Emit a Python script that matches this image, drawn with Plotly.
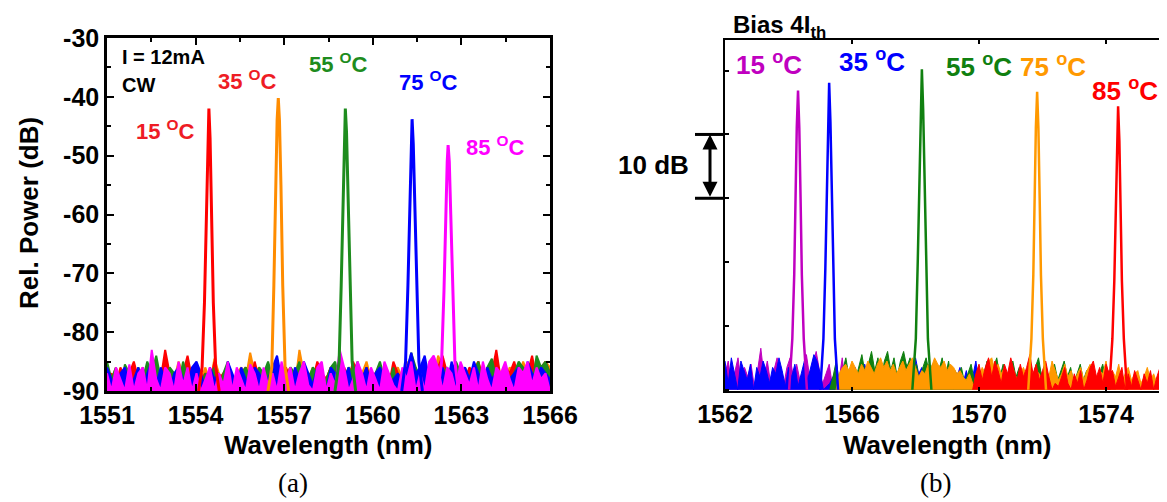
import numpy as np
import plotly.graph_objects as go

# The page body has an 8 px margin, so the figure is sized to the visible area
# and reference pixel positions are converted with that offset.
OFF = 8
W, H = 1167 - OFF, 502 - OFF

def px(x):
    return (x - OFF) / W

def py(y):
    return 1 - (y - OFF) / H

# ---------------- Panel (a): I = 12 mA, CW ----------------
A_LABELS = ["15 <sup>O</sup>C", "35 <sup>O</sup>C", "55 <sup>O</sup>C", "75 <sup>O</sup>C", "85 <sup>O</sup>C"]
A_COLORS = ["#FF0000", "#FF8C00", "#1E8C1E", "#0000FF", "#FF00FF"]
A_LABEL_COLORS = ["#EE1C25", "#EE1C25", "#1E8C1E", "#0000FF", "#FF00FF"]
A_WL_START, A_WL_END = 1551.0, 1566.0
A_XTICKS = [1551, 1554, 1557, 1560, 1563, 1566]
A_YTICKS = [-90, -80, -70, -60, -50, -40, -30]
A_YTICK_TEXT = ["-90", "-80", "-70", "-60", "-50", "-40", "-30"]

A_NOISE_15 = [-88, -87, -89, -86, -88, -87, -85, -88, -86, -89,
              -87, -86, -88, -83, -87, -89, -86, -87, -84, -88,
              -86, -88, -87, -89, -85, -88, -87, -86, -89, -88,
              -87, -86, -89, -85, -88, -87, -86, -88, -89, -87,
              -86, -88, -87, -89, -86, -87, -88, -85, -87, -88,
              -86, -89, -87, -86, -88, -85, -87, -89, -86, -88,
              -87, -86, -88, -89, -85, -87, -88, -86, -87, -88,
              -86, -87, -89, -88, -86, -84, -87, -88, -86, -87,
              -88, -86, -87, -85, -88, -86, -87, -83, -88, -86,
              -87, -85, -88, -86, -87, -84, -88, -86, -85, -87]
A_NOISE_35 = [-87, -88, -86, -89, -87, -88, -86, -89, -88, -87,
              -86, -88, -87, -89, -86, -88, -85, -87, -88, -86,
              -87, -88, -86, -89, -84.5, -87, -88, -86, -89, -87,
              -86, -88, -83.5, -87, -86, -88, -89, -87, -86, -88,
              -87, -86, -89, -83, -87, -88, -86, -89, -87, -88,
              -86, -88, -85, -87, -89, -86, -88, -87, -85, -88,
              -87, -86, -88, -89, -87, -86, -88, -85, -87, -88,
              -86, -87, -89, -88, -84, -86, -88, -87, -86, -89,
              -87, -88, -86, -85, -88, -87, -89, -86, -87, -88,
              -86, -87, -88, -85, -87, -88, -86, -87, -85, -86]
A_NOISE_55 = [-85, -88, -86, -90, -85.5, -87, -89, -86, -88, -85,
              -87, -84, -88, -90, -86, -87, -89, -85, -88, -87,
              -86, -89, -87, -88, -86, -90, -87, -85, -88, -89,
              -87, -86, -88, -89, -86, -87, -85, -88, -90, -86,
              -88, -86, -87, -85, -89, -88, -86, -87, -90, -88,
              -86, -85, -89, -88, -86, -87, -85, -88, -86, -89,
              -87, -85, -88, -89, -86, -90, -88, -87, -83.5, -86,
              -88, -86, -87, -85, -89, -87, -86, -88, -85, -87,
              -86, -88, -87, -85, -89, -86, -84.5, -88, -87, -86,
              -88, -87, -85, -86, -88, -89, -84, -86, -85, -87]
A_NOISE_75 = [-86, -88, -90, -87, -86, -89, -88, -86, -90, -87,
              -85, -89, -86, -88, -90, -87, -86, -88, -89, -86,
              -85, -87, -90, -86, -88, -87, -90, -85, -87, -89,
              -86, -88, -90, -86, -87, -89, -88, -86, -84, -88,
              -87, -90, -86, -88, -85, -87, -89, -86, -88, -90,
              -86, -87, -89, -88, -86, -90, -87, -88, -86, -89,
              -87, -86, -88, -90, -88, -87, -89, -86, -83.5, -87,
              -86, -84, -88, -90, -87, -86, -89, -85, -87, -88,
              -86, -88, -85, -87, -89, -86, -88, -87, -90, -86,
              -88, -87, -86, -89, -85, -87, -88, -86, -87, -88]
A_NOISE_85 = [-87, -90, -86, -88, -90, -85.5, -90, -87, -86, -90,
              -83, -88, -90, -86, -87, -90, -85, -89, -86, -90,
              -87, -90, -88, -86, -90, -87, -89, -85, -90, -86,
              -88, -90, -85.5, -87, -90, -86, -89, -87, -90, -85,
              -88, -86, -90, -87, -85, -89, -90, -86, -85, -90,
              -87, -89, -83, -86, -90, -88, -85, -87, -90, -86,
              -88, -90, -85, -87, -89, -90, -86, -88, -85, -90,
              -87, -90, -85, -84, -86, -90, -86, -87, -90, -85,
              -87, -89, -86, -90, -85, -88, -90, -86, -87, -85,
              -88, -90, -86, -87, -85, -89, -86, -88, -87, -90]

A_PEAK_WL_15 = [1554.10, 1554.22, 1554.30, 1554.36, 1554.41, 1554.45, 1554.49, 1554.54, 1554.60, 1554.68, 1554.80]
A_PEAK_DB_15 = [-90, -86, -75, -60, -47, -42, -47, -60, -75, -86, -90]
A_PEAK_WL_35 = [1556.45, 1556.58, 1556.65, 1556.71, 1556.76, 1556.80, 1556.84, 1556.89, 1556.95, 1557.03, 1557.15]
A_PEAK_DB_35 = [-90, -86, -72, -55, -44, -40.2, -44, -55, -72, -86, -90]
A_PEAK_WL_55 = [1558.72, 1558.86, 1558.93, 1558.99, 1559.03, 1559.07, 1559.11, 1559.16, 1559.22, 1559.30, 1559.42]
A_PEAK_DB_55 = [-90, -85, -72, -57, -46, -42, -46, -57, -72, -85, -90]
A_PEAK_WL_75 = [1560.98, 1561.11, 1561.19, 1561.25, 1561.30, 1561.33, 1561.37, 1561.42, 1561.48, 1561.56, 1561.68]
A_PEAK_DB_75 = [-90, -85, -72, -58, -48, -43.8, -48, -58, -72, -85, -90]
A_PEAK_WL_85 = [1562.20, 1562.33, 1562.41, 1562.47, 1562.52, 1562.55, 1562.59, 1562.64, 1562.70, 1562.78, 1562.90]
A_PEAK_DB_85 = [-90, -85, -73, -60, -51, -48.2, -51, -60, -73, -85, -90]

A_FLOOR = -90

# ---------------- Panel (b): Bias 4 I_th (dB above floor) ----------------
B_LABELS = ["15 <sup>o</sup>C", "35 <sup>o</sup>C", "55 <sup>o</sup>C", "75 <sup>o</sup>C", "85 <sup>o</sup>C"]
B_COLORS = ["#C000C0", "#0000FF", "#108010", "#FF9900", "#FF0000"]
B_XTICKS = [1562, 1566, 1570, 1574]

B_NOISE_WIN_15 = (1562.0, 1566.0)
B_NOISE_15 = [2.5, 4.5, 0.5, 3, 5, 1, 3.5, 2, 4, 0.5,
              3, 6.5, 2, 4.5, 1, 3, 5, 2.5, 0.5, 3.5,
              5, 2, 4, 1.5, 3, 5.5, 2, 4, 6, 3,
              1, 2.5, 4, 0.5, 3, 1.5, 5, 0.5, 2, 0]
B_NOISE_WIN_35 = (1562.0, 1570.3)
B_NOISE_35 = [4.5, 1, 5, 2.5, 0, 4.5, 3, 1.5, 4, 0,
              3.5, 2, 4.5, 3, 1, 3.5, 2.5, 5, 3, 0.5,
              3.5, 2, 4, 0.5, 2.5, 4.5, 1.5, 3.5, 5.5, 4.5,
              2.5, 0, 0.5, 1, 2, 3, 0, 1.5, 3, 0.5,
              2, 3.5, 1, 2.5, 4, 2, 3, 1.5, 4.5, 2,
              3.5, 1, 3, 4, 2, 0, 2.5, 4, 1.5, 3,
              5, 2.5, 3.5, 1, 4, 2, 3, 0.5, 2.5, 4,
              1.5, 3, 0, 2, 3.5, 1, 3, 0.5, 2, 4.5,
              1, 3, 0.5, 0]
B_NOISE_WIN_55 = (1565.3, 1574.3)
B_NOISE_55 = [0, 2, 4.5, 1, 3, 5, 2, 4, 1.5, 3.5,
              5.5, 2.5, 4, 6, 3, 5, 1.5, 4.5, 6, 3,
              5, 2, 4.5, 6, 3.5, 5, 2, 4, 1, 3.5,
              5, 2.5, 4, 1.5, 3, 5, 2, 4.5, 1, 3,
              2, 3.5, 1, 2.5, 4, 1.5, 3, 0.5, 2.5, 4.5,
              1.5, 3.5, 5, 2, 4, 1, 3, 4.5, 2, 3.5,
              1, 2.5, 4, 1.5, 3.5, 5, 2, 3, 1, 2.5,
              4, 1.5, 3, 4.5, 2, 3.5, 1, 2.5, 4, 1.5,
              3, 2, 3.5, 1, 2.5, 4, 1.5, 3, 0.5, 0]
B_NOISE_WIN_75 = (1565.5, 1575.9)
B_NOISE_75 = [0, 2.5, 3.5, 4, 3, 4.5, 3.5, 2.5, 4, 3,
              4.5, 3.5, 2.5, 4, 5, 3.5, 4.5, 3, 4, 2.5,
              3.5, 4.5, 3, 4, 5, 3.5, 2, 3, 2.5, 4,
              3.5, 5, 4, 3.5, 4.5, 3, 4, 3.5, 2.5, 3,
              2, 1.5, 2.5, 1, 0.5, 2, 3.5, 2.5, 4.5, 5,
              3, 4, 2.5, 3.5, 2, 4, 3, 1.5, 2.5, 3.5,
              2, 4, 1.5, 3, 2.5, 1, 3.5, 2, 4.5, 3,
              1.5, 2.5, 4, 2, 3, 1, 2.5, 3.5, 1.5, 3,
              4, 2, 1, 3, 2.5, 4.5, 1.5, 3, 2, 4,
              1, 2.5, 3.5, 1.5, 2.5, 3, 1, 2, 3.5, 1.5,
              2.5, 1, 3, 1.5, 0]
B_NOISE_WIN_85 = (1569.8, 1575.9)
B_NOISE_85 = [0, 2.5, 4, 1.5, 3.5, 5, 2, 4.5, 3, 1,
              4, 2.5, 5, 3, 1.5, 4, 2, 3.5, 5.5, 2.5,
              4, 1.5, 3, 4.5, 2, 0, 1, 0.5, 2, 3.5,
              1, 0, 2.5, 1, 3, 0, 1.5, 3.5, 4.5, 2,
              3.5, 1, 4, 2.5, 3, 0.5, 2, 3.5, 0, 2.5,
              0.5, 3, 1.5, 0, 2.5, 1, 3, 0, 2, 3.5,
              1.5, 3]

B_PEAK_WL_15 = [1564.02, 1564.12, 1564.18, 1564.22, 1564.26, 1564.30, 1564.34, 1564.38, 1564.42, 1564.48, 1564.58]
B_PEAK_DB_15 = [0, 8, 18, 30, 41, 46.9, 41, 30, 18, 8, 0]
B_PEAK_WL_35 = [1565.00, 1565.10, 1565.16, 1565.20, 1565.24, 1565.28, 1565.32, 1565.36, 1565.40, 1565.46, 1565.56]
B_PEAK_DB_35 = [0, 8, 19, 31, 42, 48.1, 42, 31, 19, 8, 0]
B_PEAK_WL_55 = [1567.90, 1568.01, 1568.07, 1568.12, 1568.16, 1568.20, 1568.24, 1568.28, 1568.33, 1568.39, 1568.50]
B_PEAK_DB_55 = [0, 8, 20, 33, 44, 50.2, 44, 33, 20, 8, 0]
B_PEAK_WL_75 = [1571.55, 1571.65, 1571.71, 1571.75, 1571.79, 1571.83, 1571.87, 1571.91, 1571.95, 1572.01, 1572.11]
B_PEAK_DB_75 = [0, 8, 18, 30, 41, 46.7, 41, 30, 18, 8, 0]
B_PEAK_WL_85 = [1574.10, 1574.20, 1574.26, 1574.30, 1574.34, 1574.38, 1574.42, 1574.46, 1574.50, 1574.56, 1574.66]
B_PEAK_DB_85 = [0, 8, 17, 28, 39, 44.4, 39, 28, 17, 8, 0]

SCALE_BAR_DB = (30, 40)

# ---------------- figure ----------------
fig = go.Figure()

a_noise = [A_NOISE_15, A_NOISE_35, A_NOISE_55, A_NOISE_75, A_NOISE_85]
a_peak_wl = [A_PEAK_WL_15, A_PEAK_WL_35, A_PEAK_WL_55, A_PEAK_WL_75, A_PEAK_WL_85]
a_peak_db = [A_PEAK_DB_15, A_PEAK_DB_35, A_PEAK_DB_55, A_PEAK_DB_75, A_PEAK_DB_85]

# noise draw order: orange, red, green, blue, magenta (magenta on top)
for i in [1, 0, 2, 3, 4]:
    vals = a_noise[i]
    x = np.linspace(A_WL_START, A_WL_END, len(vals))
    fig.add_trace(go.Scatter(x=x, y=[A_FLOOR] * len(vals), mode="lines",
                             line=dict(width=0, color=A_COLORS[i]), hoverinfo="skip",
                             showlegend=False, xaxis="x", yaxis="y"))
    fig.add_trace(go.Scatter(x=x, y=vals, mode="lines", fill="tonexty",
                             fillcolor=A_COLORS[i], line=dict(width=2, color=A_COLORS[i]),
                             showlegend=False, xaxis="x", yaxis="y"))
for i in range(5):
    fig.add_trace(go.Scatter(x=a_peak_wl[i], y=a_peak_db[i], mode="lines",
                             line=dict(width=3, color=A_COLORS[i]),
                             showlegend=False, xaxis="x", yaxis="y"))

b_noise = [B_NOISE_15, B_NOISE_35, B_NOISE_55, B_NOISE_75, B_NOISE_85]
b_win = [B_NOISE_WIN_15, B_NOISE_WIN_35, B_NOISE_WIN_55, B_NOISE_WIN_75, B_NOISE_WIN_85]
b_peak_wl = [B_PEAK_WL_15, B_PEAK_WL_35, B_PEAK_WL_55, B_PEAK_WL_75, B_PEAK_WL_85]
b_peak_db = [B_PEAK_DB_15, B_PEAK_DB_35, B_PEAK_DB_55, B_PEAK_DB_75, B_PEAK_DB_85]

for i in range(5):
    vals = b_noise[i]
    x = np.linspace(b_win[i][0], b_win[i][1], len(vals))
    fig.add_trace(go.Scatter(x=x, y=vals, mode="lines", fill="tozeroy",
                             fillcolor=B_COLORS[i], line=dict(width=1, color=B_COLORS[i]),
                             showlegend=False, xaxis="x2", yaxis="y2"))
for i in range(5):
    fig.add_trace(go.Scatter(x=b_peak_wl[i], y=b_peak_db[i], mode="lines",
                             line=dict(width=2.5, color=B_COLORS[i]),
                             showlegend=False, xaxis="x2", yaxis="y2"))

FONT = "Liberation Sans, Arial, sans-serif"
tickfont = dict(family=FONT, size=25, color="black", weight="bold")

axis_common = dict(showgrid=False, zeroline=False, showline=True, linecolor="black",
                   ticks="inside", tickcolor="black", tickfont=tickfont, automargin=False)

fig.update_layout(
    template="none",
    width=W, height=H,
    margin=dict(l=0, r=0, t=0, b=0, pad=0, autoexpand=False),
    paper_bgcolor="white", plot_bgcolor="white",
    showlegend=False,
    xaxis=dict(axis_common, domain=[px(107), px(550)], range=[A_WL_START, A_WL_END],
               tickvals=A_XTICKS, ticklen=7, tickwidth=2, linewidth=2.5, mirror="allticks",
               minor=dict(ticks="inside", dtick=1.5, ticklen=4, tickwidth=2, tickcolor="black"),
               anchor="y"),
    yaxis=dict(axis_common, domain=[py(391), py(38)], range=[-90, -30],
               tickvals=A_YTICKS, ticktext=A_YTICK_TEXT, ticklen=7, tickwidth=2, linewidth=2.5,
               mirror="allticks",
               minor=dict(ticks="inside", dtick=5, ticklen=4, tickwidth=2, tickcolor="black"),
               anchor="x"),
    xaxis2=dict(axis_common, domain=[px(725), 1.0], range=[1562, 1575.92],
                tickvals=B_XTICKS, ticklen=4, tickwidth=2, linewidth=2, mirror="ticks",
                anchor="y2"),
    yaxis2=dict(axis_common, domain=[py(391), py(40)], range=[-0.2, 54.8],
                tick0=0, dtick=10, ticklen=4, tickwidth=2, linewidth=2, mirror=False,
                showticklabels=False, anchor="x2"),
    yaxis3=dict(overlaying="y2", side="right", anchor="x2", range=[-0.2, 54.8],
                showgrid=False, zeroline=False, showline=False, ticks="inside",
                tick0=0, dtick=10, ticklen=4, tickwidth=2, tickcolor="black",
                showticklabels=False, automargin=False),
)

ann = []
def text(x, y, s, size, color="black", xanchor="center", yanchor="middle",
         font_family=None, bold=True, angle=0):
    f = dict(family=font_family or FONT, size=size, color=color)
    if bold:
        f["weight"] = "bold"
    ann.append(dict(x=px(x), y=py(y), xref="paper", yref="paper", text=s, showarrow=False,
                    xanchor=xanchor, yanchor=yanchor, font=f, textangle=angle))

# axis titles and panel captions
text(328, 445, "Wavelength (nm)", 26)
text(947, 445, "Wavelength (nm)", 26)
text(29, 213, "Rel. Power (dB)", 26, angle=-90)
text(293, 483, "(a)", 27, font_family="Liberation Serif, Times New Roman, serif", bold=False)
text(935, 483, "(b)", 27, font_family="Liberation Serif, Times New Roman, serif", bold=False)

# panel (a) notes and labels
text(120, 57, "I = 12mA", 20, xanchor="left")
text(120, 85, "CW", 20, xanchor="left")
a_lab_pos = [(165, 130), (247, 80), (339, 63), (428, 81), (495, 146)]
for i in range(5):
    text(a_lab_pos[i][0], a_lab_pos[i][1], A_LABELS[i], 22, color=A_LABEL_COLORS[i])

# panel (b)
text(731, 9, "Bias 4I<sub>th</sub>", 24, xanchor="left", yanchor="top")
b_lab_pos = [(769, 64), (872, 60), (979, 65), (1053, 65), (1125, 89)]
for i in range(5):
    text(b_lab_pos[i][0], b_lab_pos[i][1], B_LABELS[i], 26, color=B_COLORS[i])
text(653, 165, "10 dB", 26)

# scale bar: double arrow (x in x2-domain units, left of the frame)
bar_x = (710 - 725) / (1167 - 725)
ann.append(dict(x=bar_x, y=SCALE_BAR_DB[1], xref="x2 domain", yref="y2",
                ax=bar_x, ay=SCALE_BAR_DB[0], axref="x2 domain", ayref="y2",
                text="", showarrow=True, arrowhead=2, arrowside="end+start",
                arrowsize=1, arrowwidth=3, arrowcolor="black"))
fig.update_layout(annotations=ann)

shapes = []
for v in SCALE_BAR_DB:
    shapes.append(dict(type="line", xref="paper", yref="y2", x0=px(695), x1=px(725),
                       y0=v, y1=v, line=dict(color="black", width=3)))
fig.update_layout(shapes=shapes)

fig.write_html("out.html")
